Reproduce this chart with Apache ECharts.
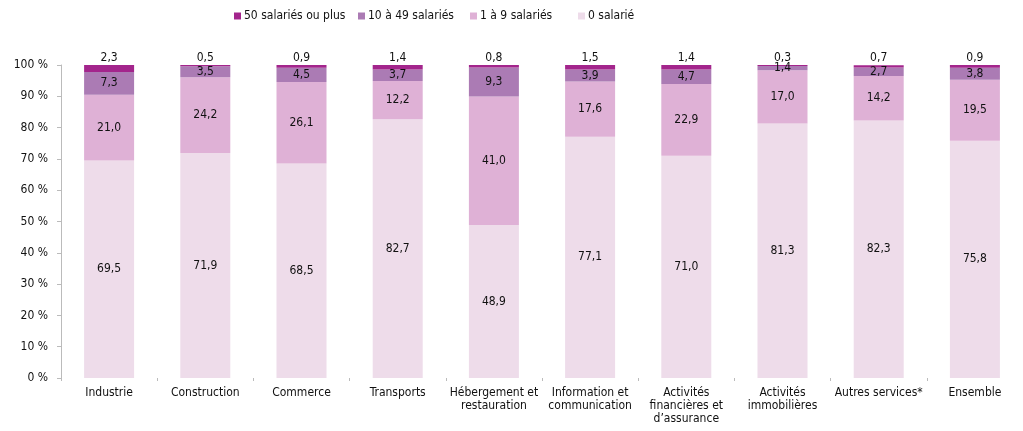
<!DOCTYPE html>
<html lang="fr">
<head>
  <meta charset="UTF-8" />
  <title>Répartition par taille</title>
  <script src="https://cdn.jsdelivr.net/npm/echarts@6/dist/echarts.min.js"></script>
  <style>
    html, body { margin: 0; padding: 0; background: #fff; }
    #chart { width: 1023px; height: 431px; }
  </style>
</head>
<body>
  <div id="chart"></div>
  <script>
    const categories = [
      'Industrie', 'Construction', 'Commerce', 'Transports',
      'Hébergement et\nrestauration', 'Information et\ncommunication',
      'Activités\nfinancières et\nd\u2019assurance', 'Activités\nimmobilières',
      'Autres services*', 'Ensemble'
    ];
    const zeroSal = [69.5, 71.9, 68.5, 82.7, 48.9, 77.1, 71.0, 81.3, 82.3, 75.8];
    const oneToNine = [21.0, 24.2, 26.1, 12.2, 41.0, 17.6, 22.9, 17.0, 14.2, 19.5];
    const tenTo49 = [7.3, 3.5, 4.5, 3.7, 9.3, 3.9, 4.7, 1.4, 2.7, 3.8];
    const fiftyPlus = [2.3, 0.5, 0.9, 1.4, 0.8, 1.5, 1.4, 0.3, 0.7, 0.9];

    const FONT = '"DejaVu Sans Condensed", sans-serif';
    const chart = echarts.init(document.getElementById('chart'));

    const fmt = p => p.value.toFixed(1).replace('.', ',');

    function mkSeries(name, data, color, pos) {
      return {
        name: name,
        type: 'bar',
        stack: 'total',
        data: data,
        barWidth: 50,
        itemStyle: { color: color },
        label: {
          show: true,
          position: pos,
          distance: 1,
          formatter: fmt,
          color: '#111',
          fontFamily: FONT,
          fontSize: 12
        }
      };
    }

    function mkLegend(name, left) {
      return {
        data: [name],
        left: left,
        top: 5,
        itemWidth: 7,
        itemHeight: 7,
        icon: 'rect',
        itemGap: 4,
        textStyle: { fontFamily: FONT, fontSize: 12, color: '#111', padding: [0, 0, 0, -2] }
      };
    }

    chart.setOption({
      animation: false,
      legend: [
        mkLegend('50 salariés ou plus', 229),
        mkLegend('10 à 49 salariés', 353),
        mkLegend('1 à 9 salariés', 465),
        mkLegend('0 salarié', 573)
      ],
      grid: { left: 61, top: 65, width: 983, bottom: 53 },
      xAxis: {
        type: 'category',
        data: categories,
        axisLine: { show: false },
        axisTick: { show: true, length: 3, lineStyle: { color: '#bbb' } },
        axisLabel: {
          fontFamily: FONT, fontSize: 12, color: '#111',
          lineHeight: 13, margin: 8, interval: 0
        }
      },
      yAxis: {
        type: 'value',
        min: 0,
        max: 100,
        interval: 10,
        axisLine: { show: true, lineStyle: { color: '#bbb' } },
        axisTick: { show: true, length: 4, lineStyle: { color: '#bbb' } },
        splitLine: { show: false },
        axisLabel: {
          formatter: '{value} %',
          fontFamily: FONT, fontSize: 12, color: '#111', margin: 13
        }
      },
      series: [
        mkSeries('0 salarié', zeroSal, '#eedcea', 'inside'),
        mkSeries('1 à 9 salariés', oneToNine, '#dfb1d6', 'inside'),
        mkSeries('10 à 49 salariés', tenTo49, '#ab7bb4', 'inside'),
        mkSeries('50 salariés ou plus', fiftyPlus, '#a3258c', 'top')
      ]
    });
  </script>
</body>
</html>
